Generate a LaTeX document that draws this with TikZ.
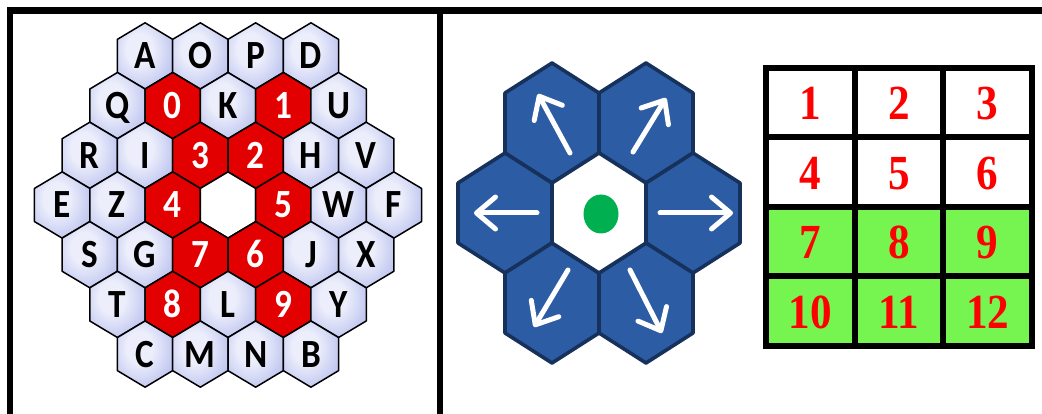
\documentclass[tikz,border=0pt]{standalone}
\usepackage{fontspec}
\setmainfont{Carlito}
\newfontfamily\serifnum{Liberation Serif}
\usetikzlibrary{arrows.meta}
\definecolor{lavC}{RGB}{236,238,251}
\definecolor{lavE}{RGB}{160,170,232}
\definecolor{hexred}{RGB}{226,0,0}
\definecolor{hexblue}{RGB}{44,92,164}
\definecolor{hexnavy}{RGB}{22,50,92}
\definecolor{dotgreen}{RGB}{0,176,80}
\definecolor{cellgreen}{RGB}{118,245,80}
\definecolor{numred}{RGB}{255,0,0}
\pgfdeclareradialshading{hexshade}{\pgfpoint{-6bp}{6bp}}{color(0bp)=(lavC); color(12bp)=(lavC); color(44bp)=(lavE); color(80bp)=(lavE)}
\newcommand\smallhex[3]{\path[#3] (#1,#2) +(0,-33.1) -- +(27.65,-16.55) -- +(27.65,16.55) -- +(0,33.1) -- +(-27.65,16.55) -- +(-27.65,-16.55) -- cycle;}
\newcommand\bighex[3]{\path[#3] (#1,#2) +(0,-60) -- +(47,-30) -- +(47,30) -- +(0,60) -- +(-47,30) -- +(-47,-30) -- cycle;}
\newcommand\hexrow[3]{%
  \foreach[count=\c from 0] \s/\t in {#3}{%
    \pgfmathsetmacro\hx{228+(\c-(#2-1)/2)*55.3}%
    \pgfmathsetmacro\hy{205+(#1-3)*49.7}%
    \smallhex{\hx}{\hy}{\s hex}%
    \node[\s txt] (h#1-\c) at (\hx,\hy) {\t};%
  }}
\begin{document}
\begin{tikzpicture}[x=1pt,y=-1pt,
  lhex/.style={draw=black, line width=1.5pt, line join=round, shade, shading=hexshade},
  rhex/.style={draw=black, line width=1.5pt, line join=round, fill=hexred},
  whex/.style={draw=black, line width=1.5pt, line join=round, fill=white},
  ltxt/.style={font=\bfseries\fontsize{40}{40}\selectfont, xscale=0.88, text=black, inner sep=0pt, text height=25.8pt, text depth=0pt},
  rtxt/.style={ltxt, text=white},
  wtxt/.style={ltxt},
  bhex/.style={fill=hexblue, draw=hexnavy, line width=3.6pt, line join=round},
  chex/.style={fill=white, draw=hexnavy, line width=3.6pt, line join=round},
  warrow/.style={draw=white, line width=5pt, line cap=round, -{Straight Barb[length=19pt,width=32pt,line width=5pt,round]}},
  gridline/.style={line width=6pt},
  num/.style={font=\serifnum\bfseries\fontsize{49}{49}\selectfont, xscale=0.88, text=numred, inner sep=0pt, text height=33pt, text depth=0pt},
  frame/.style={line width=6.5pt, line join=miter}]
\useasboundingbox (0,0) rectangle (1042,414);
\fill[white] (0,0) rectangle (1042,414);
% ---------- frame
\draw[frame] (10,414) -- (10,10.5) -- (1042,10.5);
\draw[frame] (440,10.5) -- (440,414);
% ---------- left hex board
\hexrow{0}{4}{l/A,l/O,l/P,l/D}
\hexrow{1}{5}{l/Q,r/0,l/K,r/1,l/U}
\hexrow{2}{6}{l/R,l/I,r/3,r/2,l/H,l/V}
\hexrow{3}{7}{l/E,l/Z,r/4,w/{},r/5,l/W,l/F}
\hexrow{4}{6}{l/S,l/G,r/7,r/6,l/J,l/X}
\hexrow{5}{5}{l/T,r/8,l/L,r/9,l/Y}
\hexrow{6}{4}{l/C,l/M,l/N,l/B}
% ---------- middle: blue hexes
\bighex{552}{123}{bhex}
\bighex{646}{123}{bhex}
\bighex{505}{213}{bhex}
\bighex{693}{213}{bhex}
\bighex{552}{303}{bhex}
\bighex{646}{303}{bhex}
\bighex{599}{213}{chex}
\fill[dotgreen] (601,214) ellipse [x radius=17.5, y radius=19.5];
\coordinate (aLs) at (537,213);  \coordinate (aLe) at (474,213);
\coordinate (aRs) at (660,213);  \coordinate (aRe) at (733,213);
\coordinate (aTLs) at (570,153); \coordinate (aTLe) at (538,94);
\coordinate (aTRs) at (633,152); \coordinate (aTRe) at (666,98);
\coordinate (aBLs) at (568,270); \coordinate (aBLe) at (534,327);
\coordinate (aBRs) at (630,270); \coordinate (aBRe) at (662,333);
\draw[warrow] (aLs) -- (aLe);
\draw[warrow] (aRs) -- (aRe);
\draw[warrow] (aTLs) -- (aTLe);
\draw[warrow] (aTRs) -- (aTRe);
\draw[warrow] (aBLs) -- (aBLe);
\draw[warrow] (aBRs) -- (aBRe);
% ---------- right: grid
\fill[white] (766,68) rectangle (1032,206.8);
\fill[cellgreen] (766,206.8) rectangle (1032,345.6);
\draw[gridline] (766,68) rectangle (1032,345.6);
\draw[gridline] (854.7,68) -- (854.7,345.6);
\draw[gridline] (943.3,68) -- (943.3,345.6);
\draw[gridline] (766,137.4) -- (1032,137.4);
\draw[gridline] (766,206.8) -- (1032,206.8);
\draw[gridline] (766,276.2) -- (1032,276.2);
\foreach \t [count=\i from 0] in {1,2,3,4,5,6,7,8,9,10,11,12}{%
  \pgfmathsetmacro\gx{810.3+mod(\i,3)*88.67}%
  \pgfmathsetmacro\gy{103.5+floor(\i/3)*69.4}%
  \node[num] (g\t) at (\gx,\gy) {\t};%
}
\end{tikzpicture}
\end{document}
